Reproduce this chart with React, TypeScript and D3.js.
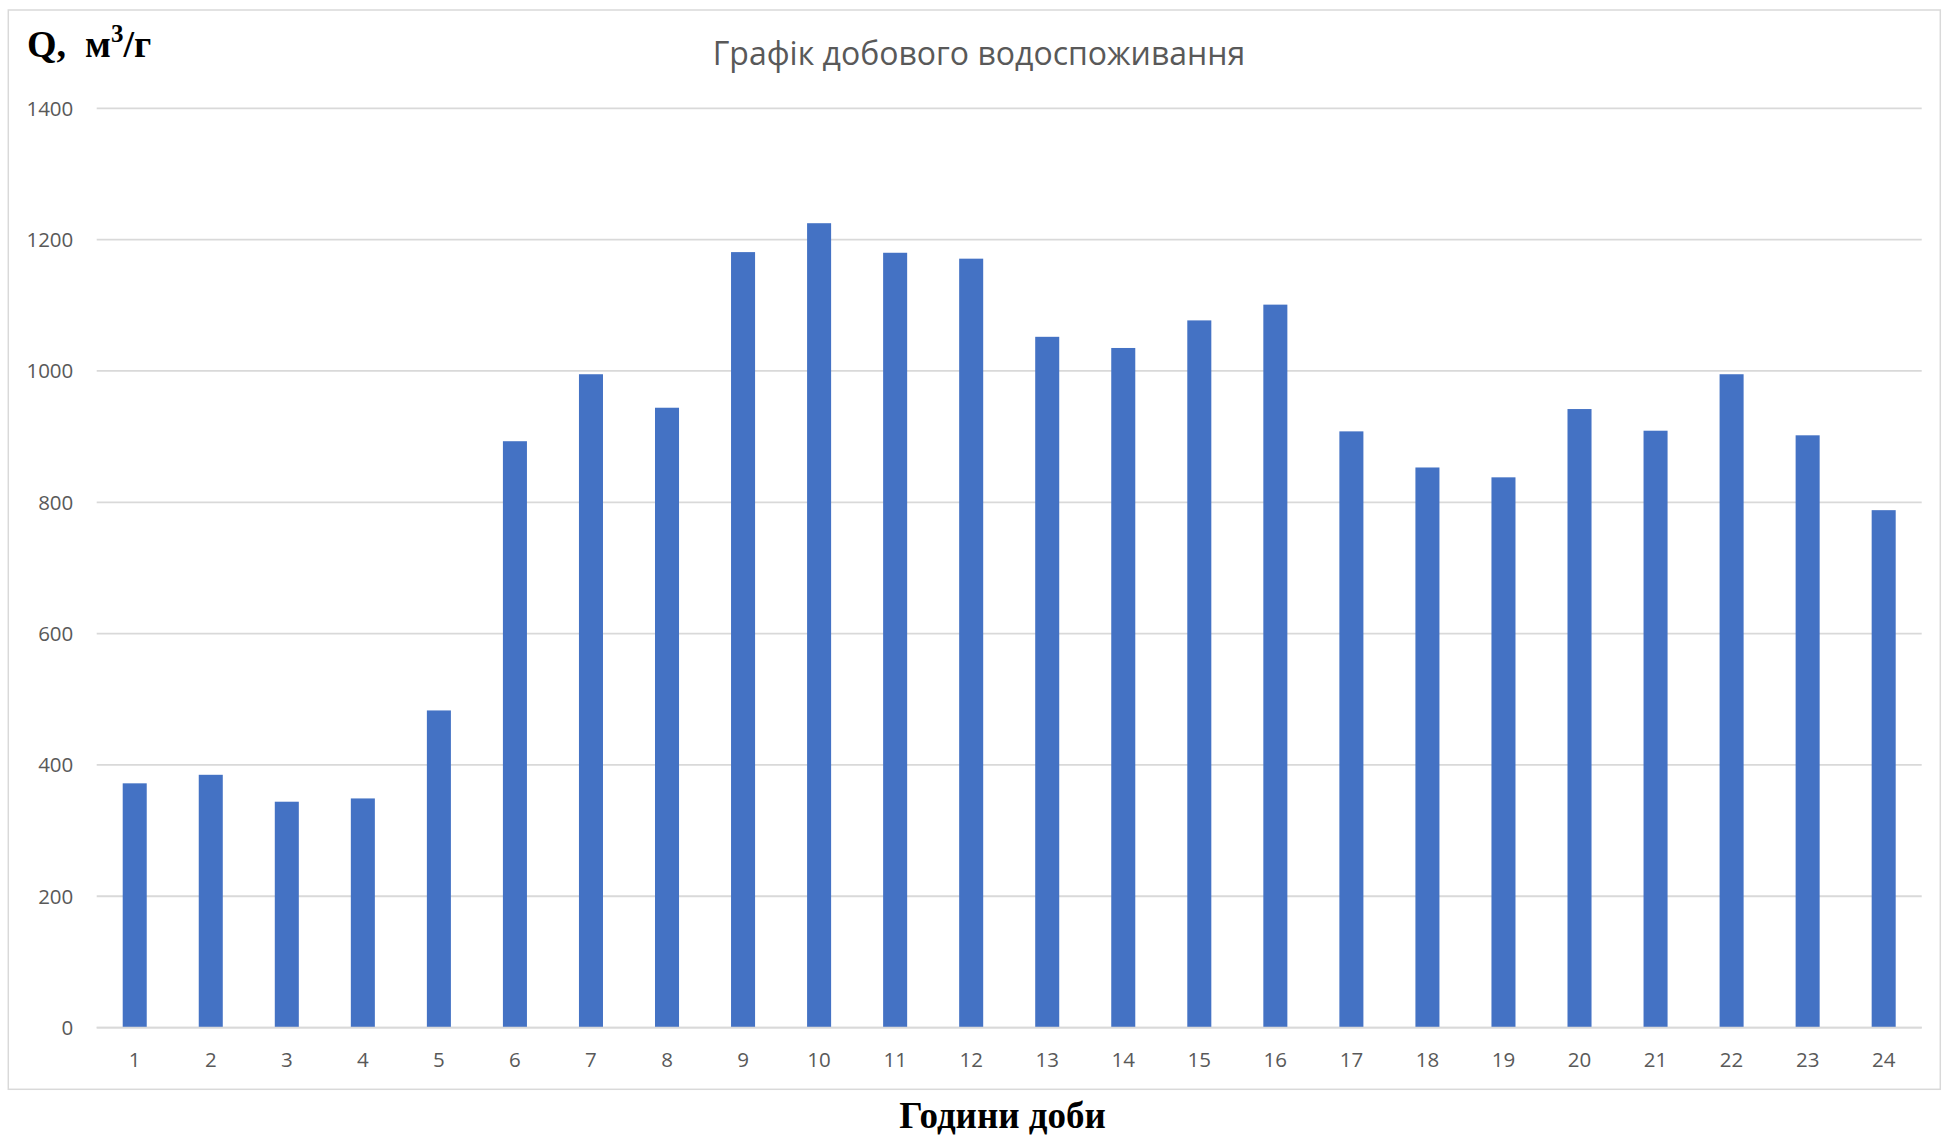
import React from "react";
import * as d3 from "d3";

const hours: string[] = ["1","2","3","4","5","6","7","8","9","10","11","12","13","14","15","16","17","18","19","20","21","22","23","24"];
const consumption: number[] = [372, 385, 344, 349, 483, 893, 995, 944, 1181, 1225, 1180, 1171, 1052, 1035, 1077, 1101, 908, 853, 838, 942, 909, 995, 902, 788];
const yTicks: number[] = [0, 200, 400, 600, 800, 1000, 1200, 1400];
const chartTitle = "Графік добового водоспоживання";
const xAxisTitle = "Години доби";

const W = 1943;
const H = 1138;
const plotLeft = 96.7;
const plotRight = 1921.7;
const plotTop = 108.3;
const plotBottom = 1027.6;

export default function App() {
  const x = d3.scaleBand<string>().domain(hours).range([plotLeft, plotRight]).paddingInner(0.684).paddingOuter(0.342);
  const y = d3.scaleLinear().domain([0, 1400]).range([plotBottom, plotTop]);
  const tickFont = "'Open Sans', 'Liberation Sans', sans-serif";
  return (
    <svg width={W} height={H} style={{ position: "absolute", left: 0, top: 0, display: "block", background: "#fff" }}>
      <rect x={0} y={0} width={W} height={H} fill="#fff" />
      <rect x={8.3} y={10} width={1932} height={1079.3} fill="#fff" stroke="#D9D9D9" strokeWidth={1.5} />
      <text x={979} y={65} textAnchor="middle" fill="#595959" fontFamily={tickFont} fontSize={32}>{chartTitle}</text>
      <text x={27} y={57} fill="#000" fontFamily="'Liberation Serif', 'Times New Roman', serif" fontWeight="bold" fontSize={38}>
        Q,
        <tspan x={85}>м</tspan>
        <tspan dy={-15} fontSize={25}>3</tspan>
        <tspan dy={15}>/г</tspan>
      </text>
      {yTicks.map((t) => (
        <g key={t}>
          <line x1={plotLeft} x2={plotRight} y1={y(t)} y2={y(t)} stroke="#D9D9D9" strokeWidth={1.8} />
          <text x={73.3} y={y(t)} dy="0.36em" textAnchor="end" fill="#595959" fontFamily={tickFont} fontSize={20.5}>{t}</text>
        </g>
      ))}
      {hours.map((h, i) => (
        <rect key={h} x={x(h)} y={y(consumption[i])} width={x.bandwidth()} height={y(0) - y(consumption[i])} fill="#4472C4" />
      ))}
      <line x1={plotLeft} x2={plotRight} y1={y(0)} y2={y(0)} stroke="#D9D9D9" strokeWidth={1.8} />
      {hours.map((h) => (
        <text key={h} x={(x(h) as number) + x.bandwidth() / 2} y={1067.3} textAnchor="middle" fill="#595959" fontFamily={tickFont} fontSize={20.5}>{h}</text>
      ))}
      <text x={1002.5} y={1128} textAnchor="middle" fill="#000" fontFamily="'Liberation Serif', 'Times New Roman', serif" fontWeight="bold" fontSize={37}>{xAxisTitle}</text>
    </svg>
  );
}
